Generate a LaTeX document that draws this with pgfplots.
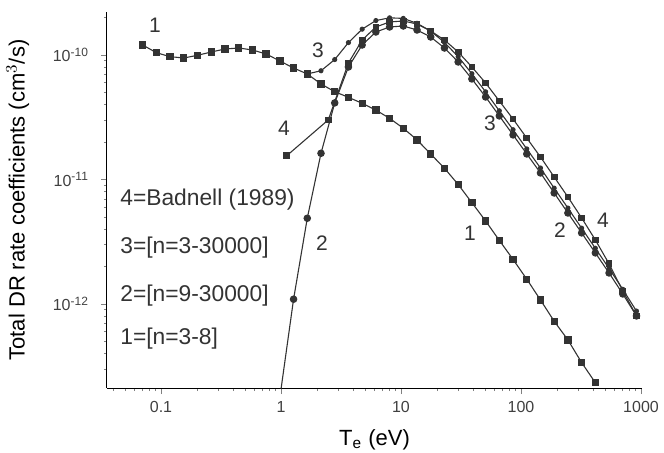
\documentclass[border=0pt]{standalone}
\usepackage{fontspec}
\setmainfont{Liberation Sans}
\usepackage{pgfplots}
\pgfplotsset{compat=1.18}
\definecolor{ln}{gray}{0.2}

\begin{document}
\begin{tikzpicture}
\begin{axis}[xmode=log,ymode=log,scale only axis,width=267.5pt,height=188pt,
 xmin=0.0355,xmax=1019,ymin=2.11e-13,ymax=2.214e-10,
 axis lines=left,axis line style={-,line width=0.5pt},
 tick align=outside,major tick length=3pt,minor tick length=1.6pt,
 xtick={0.1,1,10,100,1000},xticklabels={0.1,1,10,100,1000},
 minor xtick={0.04,0.05,0.06,0.07,0.08,0.09,0.2,0.3,0.4,0.5,0.6,0.7,0.8,0.9,2,3,4,5,6,7,8,9,20,30,40,50,60,70,80,90,200,300,400,500,600,700,800,900},
 ytick={1e-12,1e-11,1e-10},yticklabels={10\textsuperscript{-12},10\textsuperscript{-11},10\textsuperscript{-10}},
 minor ytick={3e-13,4e-13,5e-13,6e-13,7e-13,8e-13,9e-13,2e-12,3e-12,4e-12,5e-12,6e-12,7e-12,8e-12,9e-12,2e-11,3e-11,4e-11,5e-11,6e-11,7e-11,8e-11,9e-11,2e-10},
 tick label style={font=\fontsize{8}{9}\selectfont,text=black!75},
 yticklabel style={xshift=-2.5pt},
 label style={font=\fontsize{11}{13}\selectfont},
 xlabel={T\textsubscript{e} (eV)},ylabel={Total DR rate coefficients (cm$^3$/s)},
 xlabel style={yshift=-1.5pt},ylabel style={yshift=5pt},
 every axis plot/.append style={color=ln,line width=0.55pt}]
% 1 = [n=3-8]
\addplot[mark=square*,mark size=1.55pt] coordinates {
(0.0704,1.203e-10)(0.0916,1.043e-10)(0.1192,9.69e-11)(0.1550,9.46e-11)(0.2017,9.94e-11)
(0.2624,1.057e-10)(0.3414,1.117e-10)(0.4442,1.138e-10)(0.5779,1.097e-10)(0.7518,1.019e-10)
(0.9784,8.95e-11)(1.273,7.86e-11)(1.656,7.04e-11)(2.155,5.85e-11)(2.804,5.07e-11)
(3.648,4.57e-11)(4.746,4.09e-11)(6.175,3.61e-11)(8.034,3.10e-11)(10.45,2.58e-11)
(13.60,2.08e-11)(17.69,1.60e-11)(23.02,1.23e-11)(29.95,9.12e-12)(38.96,6.51e-12)
(50.70,4.64e-12)(65.96,3.24e-12)(85.82,2.28e-12)(111.7,1.58e-12)(145.3,1.076e-12)
(189.0,7.26e-13)(245.9,5.14e-13)(320.0,3.38e-13)(416.3,2.33e-13)};
% 2 = [n=9-30000]
\addplot[mark=*,mark size=1.6pt] coordinates {
(0.9784,1.77e-13)(1.273,1.091e-12)(1.656,4.88e-12)(2.155,1.623e-11)(2.804,4.12e-11)
(3.648,8.01e-11)(4.746,1.203e-10)(6.175,1.530e-10)(8.034,1.679e-10)(10.45,1.710e-10)
(13.60,1.588e-10)(17.69,1.395e-10)(23.02,1.138e-10)(29.95,8.79e-11)(38.96,6.42e-11)
(50.70,4.60e-11)(65.96,3.24e-11)(85.82,2.28e-11)(111.7,1.603e-11)(145.3,1.128e-11)
(189.0,7.79e-12)(245.9,5.38e-12)(320.0,3.72e-12)(416.3,2.57e-12)(541.6,1.774e-12)
(704.7,1.203e-12)(916.9,8.01e-13)};
% 3 = [n=3-30000]
\addplot[mark=*,mark size=1.0pt] coordinates {
(1.656,7.04e-11)(2.155,7.47e-11)(2.804,9.19e-11)(3.648,1.258e-10)(4.746,1.612e-10)
(6.175,1.891e-10)(8.034,1.989e-10)(10.45,1.968e-10)(13.60,1.796e-10)(17.69,1.555e-10)
(23.02,1.261e-10)(29.95,9.70e-11)(38.96,7.07e-11)(50.70,5.06e-11)(65.96,3.56e-11)
(85.82,2.51e-11)(111.7,1.76e-11)(145.3,1.236e-11)(189.0,8.52e-12)(245.9,5.89e-12)
(320.0,4.06e-12)(416.3,2.80e-12)(541.6,1.93e-12)(704.7,1.31e-12)(916.9,8.76e-13)};
% 4 = Badnell (1989)
\addplot[mark=square*,mark size=1.4pt] coordinates {
(1.116,1.55e-11)(2.478,3.01e-11)(3.648,8.62e-11)(4.746,1.319e-10)(6.175,1.679e-10)
(8.034,1.842e-10)(10.45,1.876e-10)(13.60,1.774e-10)(17.69,1.559e-10)(23.02,1.319e-10)
(29.95,1.057e-10)(38.96,8.01e-11)(50.70,5.96e-11)(65.96,4.27e-11)(85.82,3.06e-11)
(111.7,2.15e-11)(145.3,1.516e-11)(189.0,1.047e-11)(245.9,7.23e-12)(320.0,4.91e-12)
(416.3,3.27e-12)(541.6,2.10e-12)(704.7,1.272e-12)(916.9,8.01e-13)};
\begin{scope}[every node/.style={font=\fontsize{10.5}{12}\selectfont,text=black!80}]
\node at (axis cs:0.0891,1.742e-10) {1};
\node at (axis cs:2.034,1.097e-10) {3};
\node at (axis cs:1.059,2.59e-11) {4};
\node at (axis cs:2.196,3.09e-12) {2};
\node at (axis cs:55.2,2.84e-11) {3};
\node at (axis cs:37.6,3.71e-12) {1};
\node at (axis cs:211.3,3.93e-12) {2};
\node at (axis cs:482,4.73e-12) {4};
\end{scope}
\begin{scope}[every node/.style={font=\fontsize{11.4}{13}\selectfont,text=black!80,anchor=west,inner sep=0pt}]
\node at (axis cs:0.0455,6.84e-12) {4=Badnell (1989)};
\node at (axis cs:0.0455,2.82e-12) {3=[n=3-30000]};
\node at (axis cs:0.0455,1.16e-12) {2=[n=9-30000]};
\node at (axis cs:0.0455,5.24e-13) {1=[n=3-8]};
\end{scope}
\end{axis}
\pgfresetboundingbox
\path[use as bounding box] ([shift={(-53.5pt,-32pt)}]current axis.south west) rectangle ([shift={(11pt,6pt)}]current axis.north east);
\end{tikzpicture}
\end{document}
